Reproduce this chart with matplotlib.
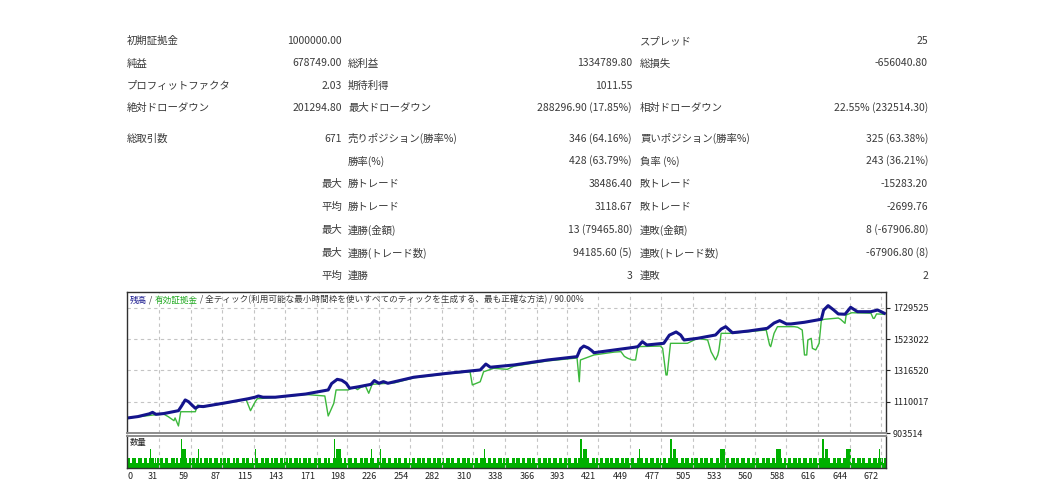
# %% Configuración
import matplotlib
matplotlib.use("Agg")
import matplotlib.pyplot as plt
import numpy as np
from matplotlib.transforms import ScaledTranslation, blended_transform_factory

plt.rcParams["font.family"] = ["Noto Sans CJK JP", "DejaVu Sans"]

W, H = 1059, 498

# %% Datos: tabla de resultados
COL1 = ["初期証拠金", "純益", "プロフィットファクタ", "絶対ドローダウン", "総取引数",
        "", "", "", "", "", ""]
COL2 = ["1000000.00", "678749.00", "2.03", "201294.80", "671",
        "", "最大", "平均", "最大", "最大", "平均"]
COL3 = ["", "総利益", "期待利得", "最大ドローダウン", "売りポジション(勝率%)",
        "勝率(%)", "勝トレード", "勝トレード", "連勝(金額)", "連勝(トレード数)", "連勝"]
COL4 = ["", "1334789.80", "1011.55", "288296.90 (17.85%)", "346 (64.16%)",
        "428 (63.79%)", "38486.40", "3118.67", "13 (79465.80)", "94185.60 (5)", "3"]
COL5 = ["スプレッド", "総損失", "", "相対ドローダウン", "買いポジション(勝率%)",
        "負率 (%)", "敗トレード", "敗トレード", "連敗(金額)", "連敗(トレード数)", "連敗"]
COL6 = ["25", "-656040.80", "", "22.55% (232514.30)", "325 (63.38%)",
        "243 (36.21%)", "-15283.20", "-2699.76", "8 (-67906.80)", "-67906.80 (8)", "2"]

# %% Datos: curvas de balance y equity (nº de operación, valor)
BAL_T = [0, 12, 22, 25, 28, 35, 48, 51, 54, 57, 60, 63, 66, 70, 90, 110, 116, 119, 123,
         134, 161, 181, 184, 189, 193, 197, 200, 208, 219, 222, 226, 230, 234, 257, 287,
         316, 321, 325, 346, 376, 402, 405, 408, 412, 415, 417, 435, 453, 456, 460, 464,
         479, 484, 490, 494, 497, 509, 525, 530, 534, 540, 554, 571, 577, 582, 588, 592,
         604, 619, 621, 625, 630, 634, 640, 645, 651, 663, 669, 675]
BAL_V = [1000000, 1012000, 1030000, 1040000, 1027000, 1032000, 1051000, 1085000, 1122000,
         1110000, 1088000, 1067000, 1080000, 1078000, 1103000, 1130000, 1140000, 1148000,
         1140000, 1140000, 1161000, 1188000, 1230000, 1258000, 1252000, 1232000, 1199000,
         1209000, 1225000, 1250000, 1232000, 1243000, 1232000, 1272000, 1298000, 1320000,
         1359000, 1338000, 1353000, 1386000, 1408000, 1460000, 1478000, 1465000, 1448000,
         1434000, 1452000, 1470000, 1474000, 1507000, 1485000, 1496000, 1550000, 1571000,
         1551000, 1518000, 1529000, 1551000, 1590000, 1606000, 1566000, 1577000, 1595000,
         1630000, 1646000, 1624000, 1624000, 1635000, 1655000, 1715000, 1745000, 1716000,
         1690000, 1688000, 1734000, 1705000, 1705000, 1716000, 1694000]

EQ_T = [0, 12, 25, 35, 39, 44, 45, 48, 50, 63, 65, 70, 90, 108, 112, 116, 118, 134, 161,
        178, 181, 186, 188, 199, 201, 205, 207, 210, 214, 217, 220, 240, 257, 287, 307,
        309, 316, 319, 328, 340, 346, 376, 402, 404, 405, 417, 435, 441, 444, 447, 451,
        454, 456, 476, 478, 481, 482, 485, 500, 509, 518, 521, 525, 527, 528, 530, 539,
        570, 573, 574, 577, 580, 595, 598, 602, 604, 606, 607, 610, 611, 614, 617, 619,
        622, 634, 636, 640, 641, 646, 663, 665, 666, 668, 675]
EQ_V = [1000000, 1010000, 1022000, 1028000, 1011000, 985000, 1003000, 950000, 1044000,
        1044000, 1088000, 1076000, 1100000, 1126000, 1051000, 1108000, 1130000, 1138000,
        1158000, 1148000, 1016000, 1100000, 1188000, 1188000, 1199000, 1200000, 1190000,
        1205000, 1215000, 1166000, 1225000, 1235000, 1268000, 1295000, 1308000, 1221000,
        1242000, 1308000, 1331000, 1324000, 1345000, 1380000, 1399000, 1242000, 1386000,
        1419000, 1438000, 1441000, 1410000, 1397000, 1386000, 1386000, 1474000, 1478000,
        1463000, 1287000, 1287000, 1496000, 1496000, 1529000, 1518000, 1441000, 1386000,
        1419000, 1452000, 1562000, 1562000, 1584000, 1485000, 1474000, 1562000, 1606000,
        1606000, 1602000, 1584000, 1419000, 1419000, 1518000, 1529000, 1463000, 1452000,
        1496000, 1650000, 1655000, 1663000, 1655000, 1628000, 1683000, 1698000, 1695000,
        1661000, 1661000, 1690000, 1688000]

Y_TICKS = [903514, 1110017, 1316520, 1523022, 1729525]
X_TICKS = [0, 31, 59, 87, 115, 143, 171, 198, 226, 254, 282, 310, 338, 366, 393, 421,
           449, 477, 505, 533, 560, 588, 616, 644, 672]

# lotes por operación, un tramo por intervalo de la rejilla
VOL_SEGMENTS = [
    "12122112221122221222112" "4" "2212122",
    "1221122211222212212" "6" "4444" "2122",
    "1222124122112221222112221122",
    "1221222112212221122212221121",
    "14" "22112221222112212221122212",
    "2212221122212211222122211222",
    "122211222122112" "6" "2" "4444" "211221",
    "122211222112221222112" "4" "221122",
    "2" "4" "12221122211222122211222112",
    "1222112221222112221122212221",
    "2211222122211222112221222112",
    "122211222" "4" "211222122211222122",
    "1222112221222112221122212221",
    "122211222122211222112221222",
    "122211222122" "6" "2" "4444" "2211222122",
    "1222112221222112221122212221",
    "12221122" "4" "2221222112221122212",
    "12221122" "6" "2" "444" "221122212221122",
    "122211222122211222112221" "4444",
    "122211222122211222112221222",
    "1222112221222112221" "4444" "21122",
    "1222112221222112221122212221",
    "1222" "6" "2" "444" "2211222122211222" "444",
    "4" "1222112221222112221122212" "4" "2",
    "2212",
]
VOLUMEN = [int(c) for c in "".join(VOL_SEGMENTS)]

# %% Estilo
C_TXT = "#3a3a3a"
C_BAL = "#14148c"
C_EQ = "#3cb83c"
C_VOL = "#00b000"
C_GRID = "#c4c4c4"
FS = 7.5


def fx(x):
    return x / W


def fy(y):
    return 1 - y / H


fig = plt.figure(figsize=(W / 100, H / 100), dpi=100)
fig.patch.set_facecolor("white")

# %% Tabla
ROW_Y = [41, 63.5, 86, 108, 138.5, 161, 184, 207, 230, 253, 276]
for i, y in enumerate(ROW_Y):
    fig.text(fx(127), fy(y), COL1[i], ha="left", va="center", fontsize=FS, color=C_TXT)
    fig.text(fx(342), fy(y), COL2[i], ha="right", va="center", fontsize=FS, color=C_TXT)
    fig.text(fx(348), fy(y), COL3[i], ha="left", va="center", fontsize=FS, color=C_TXT)
    fig.text(fx(632), fy(y), COL4[i], ha="right", va="center", fontsize=FS, color=C_TXT)
    fig.text(fx(640), fy(y), COL5[i], ha="left", va="center", fontsize=FS, color=C_TXT)
    fig.text(fx(928), fy(y), COL6[i], ha="right", va="center", fontsize=FS, color=C_TXT)

# %% Gráfico de balance / equity
XLIM = (2.3, 676.4)
ax = fig.add_axes([fx(127), fy(433), fx(886) - fx(127), fy(292) - fy(433)])
ax.plot(EQ_T, EQ_V, color=C_EQ, lw=1.0)
ax.plot(BAL_T, BAL_V, color=C_BAL, lw=2.2, solid_joinstyle="round")
ax.set_xlim(*XLIM)
ax.set_ylim(903514, 1835000)
ax.yaxis.tick_right()
ax.set_yticks(Y_TICKS)
ax.set_yticklabels([str(v) for v in Y_TICKS])
ax.tick_params(axis="y", length=3, width=0.8, pad=2, labelsize=6.5, colors="#222222")
ax.set_xticks(X_TICKS[1:])
ax.tick_params(axis="x", length=0, labelbottom=False)
ax.grid(True, color=C_GRID, ls=(0, (3, 3)), lw=0.8)
for s in ["top", "left", "right"]:
    ax.spines[s].set_color("#303030")
    ax.spines[s].set_linewidth(1.0)
ax.spines["bottom"].set_color("#8c8c8c")
ax.spines["bottom"].set_linewidth(1.4)

# título multicolor
piezas = [("残高", C_BAL), (" / ", C_TXT), ("有効証拠金", "#22aa22"),
          (" / 全ティック(利用可能な最小時間枠を使いすべてのティックを生成する、最も正確な方法) / 90.00%", C_TXT)]
prev = ax.text(fx(130), fy(300), piezas[0][0], transform=fig.transFigure,
               ha="left", va="center", fontsize=6.2, color=piezas[0][1])
for txt, col in piezas[1:]:
    prev = ax.annotate(txt, xy=(1, 0), xycoords=prev, ha="left", va="bottom",
                       fontsize=6.2, color=col)

# %% Volumen
axv = fig.add_axes([fx(127), fy(468), fx(886) - fx(127), fy(436) - fy(468)])
axv.bar(np.arange(len(VOLUMEN)), VOLUMEN, width=1.0, color=C_VOL, lw=0, align="edge")
axv.set_xlim(*XLIM)
axv.set_ylim(0, 6.6)
axv.set_xticks(X_TICKS[1:])
axv.set_yticks([])
axv.tick_params(axis="x", length=0, labelbottom=False)
axv.grid(True, axis="x", color=C_GRID, ls=(0, (3, 3)), lw=0.8)
for s in axv.spines.values():
    s.set_color("#303030")
    s.set_linewidth(1.0)
axv.spines["top"].set_color("#8c8c8c")
axv.spines["top"].set_linewidth(1.4)
axv.text(fx(130), fy(442), "数量", transform=fig.transFigure, ha="left", va="center",
         fontsize=6, color="#222222")

tr = blended_transform_factory(axv.transData, fig.transFigure)
shift = ScaledTranslation(-2 / 100, 0, fig.dpi_scale_trans)
for xt in X_TICKS:
    if xt == 0:
        fig.text(fx(127), fy(476), "0", ha="left", va="center", fontsize=6.5, color="#222222")
    else:
        fig.text(xt, fy(476), str(xt), transform=tr + shift, ha="right", va="center",
                 fontsize=6.5, color="#222222")

fig.savefig("out.png", dpi=100, facecolor="white")
